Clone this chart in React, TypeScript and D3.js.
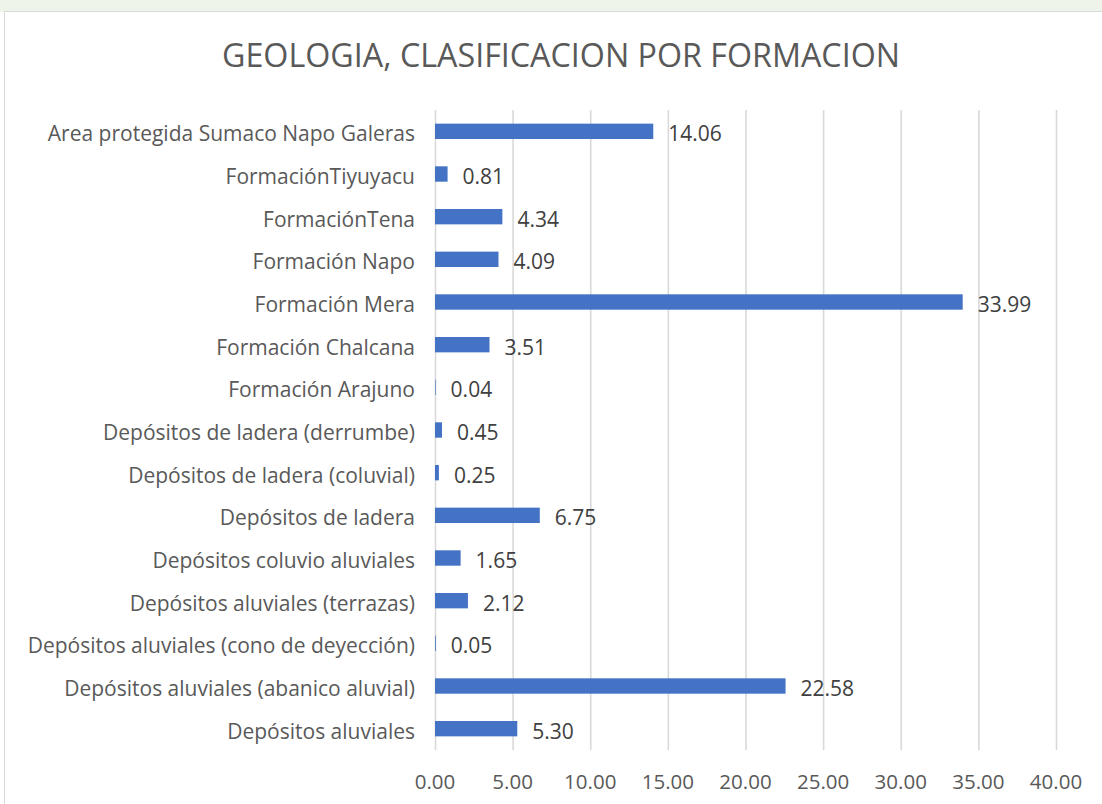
import { useEffect, useRef } from 'react'
import * as d3 from 'd3'

const categories = [
  'Area protegida Sumaco Napo Galeras',
  'FormaciónTiyuyacu',
  'FormaciónTena',
  'Formación Napo',
  'Formación Mera',
  'Formación Chalcana',
  'Formación Arajuno',
  'Depósitos de ladera (derrumbe)',
  'Depósitos de ladera (coluvial)',
  'Depósitos de ladera',
  'Depósitos coluvio aluviales',
  'Depósitos aluviales (terrazas)',
  'Depósitos aluviales (cono de deyección)',
  'Depósitos aluviales (abanico aluvial)',
  'Depósitos aluviales',
]
const values = [14.06, 0.81, 4.34, 4.09, 33.99, 3.51, 0.04, 0.45, 0.25, 6.75, 1.65, 2.12, 0.05, 22.58, 5.3]
const ticks = [0, 5, 10, 15, 20, 25, 30, 35, 40]
const title = 'GEOLOGIA, CLASIFICACION POR FORMACION'

function App() {
  const ref = useRef<SVGSVGElement>(null)

  useEffect(() => {
    const width = 1102
    const height = 804
    const font = '"Open Sans", sans-serif'
    const svg = d3.select(ref.current)
    svg.selectAll('*').remove()

    // faint background strip above the chart box
    svg.append('rect').attr('x', 0).attr('y', 0).attr('width', width).attr('height', 12).attr('fill', '#eef4ea')

    // chart box
    svg.append('rect')
      .attr('x', 4.5).attr('y', 11.5)
      .attr('width', width + 10).attr('height', height)
      .attr('fill', '#ffffff')
      .attr('stroke', '#d9d9d9')

    svg.append('text')
      .attr('x', 222).attr('y', 67)
      .attr('textLength', 678)
      .attr('lengthAdjust', 'spacingAndGlyphs')
      .style('font-family', font)
      .style('font-size', '32px')
      .style('fill', '#595959')
      .text(title)

    const x = d3.scaleLinear().domain([0, 40]).range([435, 1056])
    const y = d3.scaleBand().domain(categories).range([110, 750]).paddingInner(0.64).paddingOuter(0.32)

    // gridlines
    svg.append('g').selectAll('line').data(ticks).join('line')
      .attr('x1', d => x(d) + 0.5).attr('x2', d => x(d) + 0.5)
      .attr('y1', 110).attr('y2', 750)
      .attr('stroke', '#d9d9d9')
      .attr('stroke-width', 1.6)

    svg.append('g').selectAll('text').data(ticks).join('text')
      .attr('x', d => x(d)).attr('y', 789)
      .attr('text-anchor', 'middle')
      .style('font-family', font)
      .style('font-size', '20.5px')
      .style('fill', '#595959')
      .text(d => d.toFixed(2))

    // category labels
    svg.append('g').selectAll('text').data(categories).join('text')
      .attr('x', 415)
      .attr('y', d => (y(d) as number) + y.bandwidth() / 2)
      .attr('dy', 10)
      .attr('text-anchor', 'end')
      .style('font-family', font)
      .style('font-size', '21px')
      .style('fill', '#595959')
      .text(d => d)

    const rows = categories.map((c, i) => ({ c, v: values[i] }))

    svg.append('g').selectAll('rect').data(rows).join('rect')
      .attr('x', x(0))
      .attr('y', d => y(d.c) as number)
      .attr('width', d => x(d.v) - x(0))
      .attr('height', y.bandwidth())
      .attr('fill', '#4472c4')

    svg.append('g').selectAll('text').data(rows).join('text')
      .attr('x', d => x(d.v) + 15)
      .attr('y', d => (y(d.c) as number) + y.bandwidth() / 2)
      .attr('dy', 10)
      .style('font-family', font)
      .style('font-size', '21px')
      .style('fill', '#404040')
      .text(d => d.v.toFixed(2))
  }, [])

  return (
    <svg ref={ref} width={1102} height={804} style={{ position: 'absolute', left: 0, top: 0, background: '#fff' }} />
  )
}

export default App
